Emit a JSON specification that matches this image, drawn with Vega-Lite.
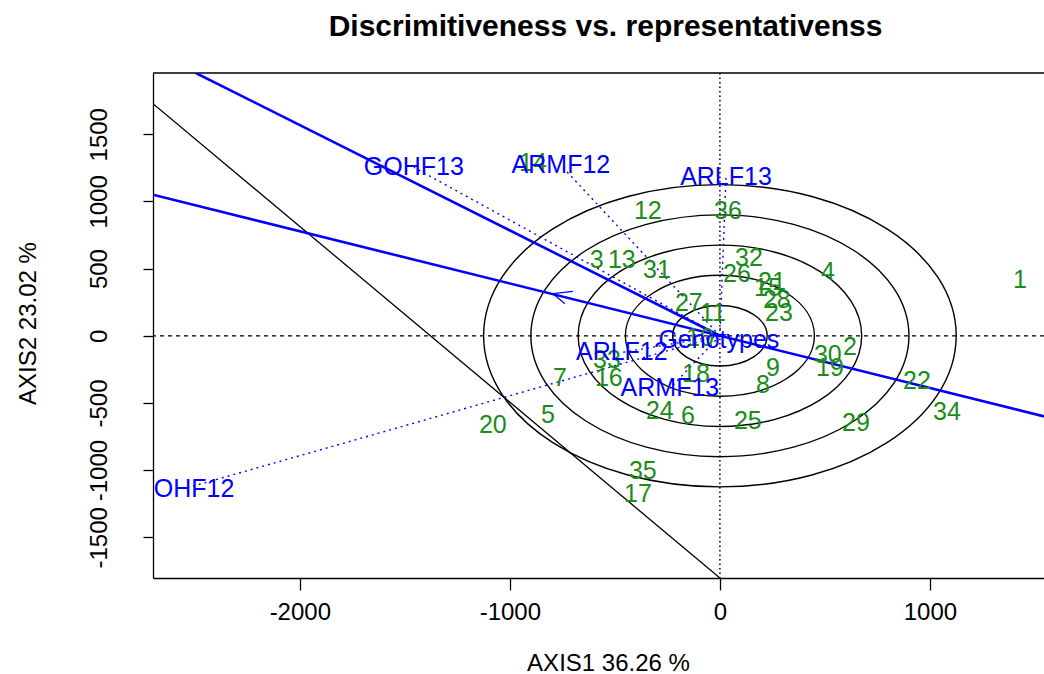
{
  "$schema": "https://vega.github.io/schema/vega-lite/v6.json",
  "autosize": {"type": "none"},
  "padding": {"left": 153, "top": 73, "right": 0, "bottom": 96},
  "width": 891,
  "height": 505,
  "background": "white",
  "title": {
    "text": "Discrimitiveness vs. representativenss",
    "font": "Liberation Sans",
    "fontSize": 30,
    "fontWeight": "bold",
    "color": "black",
    "anchor": "middle",
    "frame": "group",
    "baseline": "alphabetic",
    "offset": 6,
    "dx": 7
  },
  "config": {
    "view": {"stroke": null},
    "axis": {
      "grid": false,
      "domainColor": "black",
      "domainWidth": 1.3,
      "tickColor": "black",
      "tickWidth": 1.3,
      "labelColor": "black",
      "labelFont": "Liberation Sans",
      "labelFontSize": 24,
      "titleFont": "Liberation Sans",
      "titleFontSize": 24,
      "titleFontWeight": "normal",
      "titleColor": "black"
    }
  },
  "datasets": {
    "genotypes": [
      {"g": "1", "x": 1429, "y": 412},
      {"g": "2", "x": 619, "y": -87},
      {"g": "3", "x": -586, "y": 561},
      {"g": "4", "x": 514, "y": 472},
      {"g": "5", "x": -819, "y": -587},
      {"g": "6", "x": -152, "y": -594},
      {"g": "7", "x": -762, "y": -318},
      {"g": "8", "x": 205, "y": -370},
      {"g": "9", "x": 252, "y": -243},
      {"g": "10", "x": -95, "y": -13},
      {"g": "11", "x": -33, "y": 166},
      {"g": "12", "x": -343, "y": 926},
      {"g": "13", "x": -467, "y": 561},
      {"g": "14", "x": -890, "y": 1284},
      {"g": "15", "x": 229, "y": 352},
      {"g": "16", "x": -529, "y": -311},
      {"g": "17", "x": -390, "y": -1175},
      {"g": "18", "x": -114, "y": -281},
      {"g": "19", "x": 524, "y": -243},
      {"g": "20", "x": -1081, "y": -661},
      {"g": "21", "x": 248, "y": 397},
      {"g": "22", "x": 938, "y": -334},
      {"g": "23", "x": 281, "y": 166},
      {"g": "24", "x": -286, "y": -557},
      {"g": "25", "x": 133, "y": -631},
      {"g": "26", "x": 81, "y": 457},
      {"g": "27", "x": -148, "y": 241},
      {"g": "28", "x": 271, "y": 263},
      {"g": "29", "x": 648, "y": -646},
      {"g": "30", "x": 514, "y": -146},
      {"g": "31", "x": -300, "y": 487},
      {"g": "32", "x": 138, "y": 576},
      {"g": "33", "x": -538, "y": -184},
      {"g": "34", "x": 1081, "y": -571},
      {"g": "35", "x": -367, "y": -1004},
      {"g": "36", "x": 38, "y": 926}
    ],
    "environments": [
      {"e": "GOHF13", "x0": 0, "y0": 0, "x": -1457, "y": 1254},
      {"e": "ARMF12", "x0": 0, "y0": 0, "x": -757, "y": 1269},
      {"e": "ARLF13", "x0": 0, "y0": 0, "x": 29, "y": 1179},
      {"e": "ARLF12", "x0": 0, "y0": 0, "x": -467, "y": -124},
      {"e": "ARMF13", "x0": 0, "y0": 0, "x": -238, "y": -392},
      {"e": "GOHF12", "x0": 0, "y0": 0, "x": -2550, "y": -1138}
    ],
    "origin": [
      {"label": "Genotypes", "x": -5, "y": -28}
    ],
    "rings": [
      {"r": 225, "cx": 0, "cy": 0},
      {"r": 450, "cx": 0, "cy": 0},
      {"r": 675, "cx": 0, "cy": 0},
      {"r": 900, "cx": 0, "cy": 0},
      {"r": 1125, "cx": 0, "cy": 0}
    ],
    "reference": [
      {"axis": "x", "v": 0},
      {"axis": "y", "v": 0},
      {"axis": "top", "v": 1956}
    ],
    "lines": [
      {"id": "aec", "x": -2699, "y": 1050, "x2": 1543, "y2": -600},
      {"id": "env", "x": 0, "y": 0, "x2": -2495, "y2": 1956},
      {"id": "black", "x": -2699, "y": 1728, "x2": 0, "y2": -1803}
    ],
    "arrow": [
      {"x": -795, "y": 313, "x2": -700, "y2": 330},
      {"x": -795, "y": 313, "x2": -738, "y2": 239}
    ]
  },
  "layer": [
    {
      "data": {"name": "rings"},
      "mark": {
        "type": "point",
        "shape": "M-1,0A1,0.6396,0,1,1,1,0A1,0.6396,0,1,1,-1,0Z",
        "filled": false,
        "stroke": "black",
        "strokeWidth": 1.4,
        "opacity": 1
      },
      "encoding": {
        "x": {
          "field": "cx",
          "type": "quantitative",
          "scale": {"domain": [-2699, 1543], "nice": false, "zero": false},
          "axis": {
            "title": "AXIS1 36.26 %",
            "values": [-2000, -1000, 0, 1000],
            "labelExpr": "'' + datum.value",
            "tickSize": 12,
            "labelPadding": 22,
            "labelBaseline": "middle",
            "labelFlush": false,
            "labelOverlap": false,
            "titleX": 455,
            "titleY": 85,
            "titleBaseline": "middle",
            "titleAlign": "center"
          }
        },
        "y": {
          "field": "cy",
          "type": "quantitative",
          "scale": {"domain": [-1803, 1956], "nice": false, "zero": false},
          "axis": {
            "title": "AXIS2 23.02 %",
            "values": [-1500, -1000, -500, 0, 500, 1000, 1500],
            "labelExpr": "'' + datum.value",
            "tickSize": 10,
            "labelAngle": -90,
            "labelAlign": "center",
            "labelBaseline": "middle",
            "labelPadding": 44,
            "labelFlush": false,
            "labelOverlap": false,
            "titleX": -125,
            "titleY": 250,
            "titleBaseline": "middle",
            "titleAlign": "center",
            "titleAngle": -90
          }
        },
        "size": {
          "field": "r",
          "type": "quantitative",
          "scale": {"type": "pow", "exponent": 2, "domain": [0, 1125], "range": [0, 223351]},
          "legend": null
        }
      }
    },
    {
      "data": {"name": "reference"},
      "transform": [{"filter": "datum.axis === 'top'"}],
      "mark": {"type": "rule", "color": "black", "strokeWidth": 1.3},
      "encoding": {"y": {"field": "v", "type": "quantitative"}}
    },
    {
      "data": {"name": "reference"},
      "transform": [{"filter": "datum.axis === 'y'"}],
      "mark": {"type": "rule", "color": "black", "strokeWidth": 1.2, "strokeDash": [4, 4]},
      "encoding": {"y": {"field": "v", "type": "quantitative"}}
    },
    {
      "data": {"name": "reference"},
      "transform": [{"filter": "datum.axis === 'x'"}],
      "mark": {"type": "rule", "color": "black", "strokeWidth": 1.5, "strokeDash": [1.5, 3]},
      "encoding": {"x": {"field": "v", "type": "quantitative"}}
    },
    {
      "data": {"name": "lines"},
      "transform": [{"filter": "datum.id === 'black'"}],
      "mark": {"type": "rule", "color": "black", "strokeWidth": 1.3, "clip": true},
      "encoding": {
        "x": {"field": "x", "type": "quantitative"},
        "y": {"field": "y", "type": "quantitative"},
        "x2": {"field": "x2"},
        "y2": {"field": "y2"}
      }
    },
    {
      "data": {"name": "environments"},
      "mark": {"type": "rule", "color": "blue", "strokeWidth": 1.4, "strokeDash": [2, 4], "clip": true},
      "encoding": {
        "x": {"field": "x0", "type": "quantitative"},
        "y": {"field": "y0", "type": "quantitative"},
        "x2": {"field": "x"},
        "y2": {"field": "y"}
      }
    },
    {
      "data": {"name": "lines"},
      "transform": [{"filter": "datum.id !== 'black'"}],
      "mark": {"type": "rule", "color": "blue", "strokeWidth": 2.6, "clip": true},
      "encoding": {
        "x": {"field": "x", "type": "quantitative"},
        "y": {"field": "y", "type": "quantitative"},
        "x2": {"field": "x2"},
        "y2": {"field": "y2"}
      }
    },
    {
      "data": {"name": "arrow"},
      "mark": {"type": "rule", "color": "blue", "strokeWidth": 1.3, "clip": true},
      "encoding": {
        "x": {"field": "x", "type": "quantitative"},
        "y": {"field": "y", "type": "quantitative"},
        "x2": {"field": "x2"},
        "y2": {"field": "y2"}
      }
    },
    {
      "data": {"name": "genotypes"},
      "mark": {"type": "text", "color": "#1a8c1a", "font": "Liberation Sans", "fontSize": 25, "align": "center", "baseline": "middle", "clip": true},
      "encoding": {
        "x": {"field": "x", "type": "quantitative"},
        "y": {"field": "y", "type": "quantitative"},
        "text": {"field": "g"}
      }
    },
    {
      "data": {"name": "environments"},
      "mark": {"type": "text", "color": "blue", "font": "Liberation Sans", "fontSize": 25, "align": "center", "baseline": "middle", "clip": true},
      "encoding": {
        "x": {"field": "x", "type": "quantitative"},
        "y": {"field": "y", "type": "quantitative"},
        "text": {"field": "e"}
      }
    },
    {
      "data": {"name": "origin"},
      "mark": {"type": "text", "color": "blue", "font": "Liberation Sans", "fontSize": 25, "align": "center", "baseline": "middle", "clip": true},
      "encoding": {
        "x": {"field": "x", "type": "quantitative"},
        "y": {"field": "y", "type": "quantitative"},
        "text": {"field": "label"}
      }
    }
  ]
}
